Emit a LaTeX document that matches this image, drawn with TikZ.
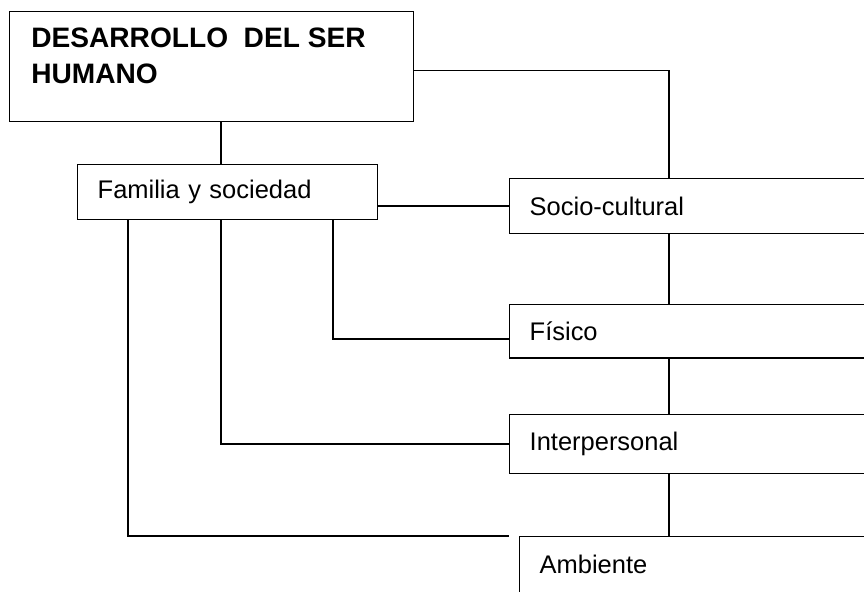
\documentclass[tikz,border=0pt]{standalone}
\usepackage{fontspec}
\setmainfont{Liberation Sans}
\usetikzlibrary{positioning}

\begin{document}
\begin{tikzpicture}[x=0.02cm,y=-0.02cm,
        caja/.style={draw,line width=0.8pt,rectangle,anchor=north west,minimum height=1.1cm,
            inner xsep=0.4cm,inner ysep=0pt,align=left,font=\fontsize{14.5}{17}\selectfont},
        linea/.style={line width=0.8pt}]
    \useasboundingbox (0,0) rectangle (864,591);
    \clip (0,0) rectangle (864,591);
    % cajas
    \node[caja,minimum width=8.08cm,minimum height=2.2cm] (ser) at (9,11) {};
    \node[anchor=base west,inner sep=0pt,align=left,font=\fontsize{16}{20.8}\selectfont\bfseries] (titulo) at (31,84) {DESARROLLO\ \ DEL SER\\HUMANO};
    \node[caja,text width=5.2cm] (fam) at (77,164) {Familia y sociedad};
    \node[caja,text width=6.8cm] (soc) at (509,178) {Socio-cultural};
    \node[caja,text width=6.8cm,minimum height=1.07cm] (fis) at (509,304) {Físico};
    \node[caja,text width=6.8cm,minimum height=1.18cm] (int) at (509,414) {Interpersonal};
    \node[caja,text width=6.6cm,minimum height=1.12cm] (amb) at (519,536) {Ambiente};
    % columnas
    \coordinate (colA) at (128,0);
    \coordinate (colB) at (221,0);
    \coordinate (colC) at (333,0);
    \coordinate (colR) at (669,0);
    % lineas
    \draw[linea] (ser.south -| colB) -- (fam.north -| colB);
    \draw[linea] ([yshift=-0.08cm]ser.east) -| (soc.north -| colR);
    \draw[linea] (fam.east |- soc.west) -- (soc.west);
    \draw[linea] (fam.south -| colC) |- ([yshift=-0.15cm]fis.west);
    \draw[linea] (fam.south -| colB) |- (int.west);
    \draw[linea] (fam.south -| colA) |- (amb.north -| soc.west);
    \draw[linea] (soc.south -| colR) -- (fis.north -| colR);
    \draw[linea] (fis.south -| colR) -- (int.north -| colR);
    \draw[linea] (int.south -| colR) -- (amb.north -| colR);
\end{tikzpicture}
\end{document}
